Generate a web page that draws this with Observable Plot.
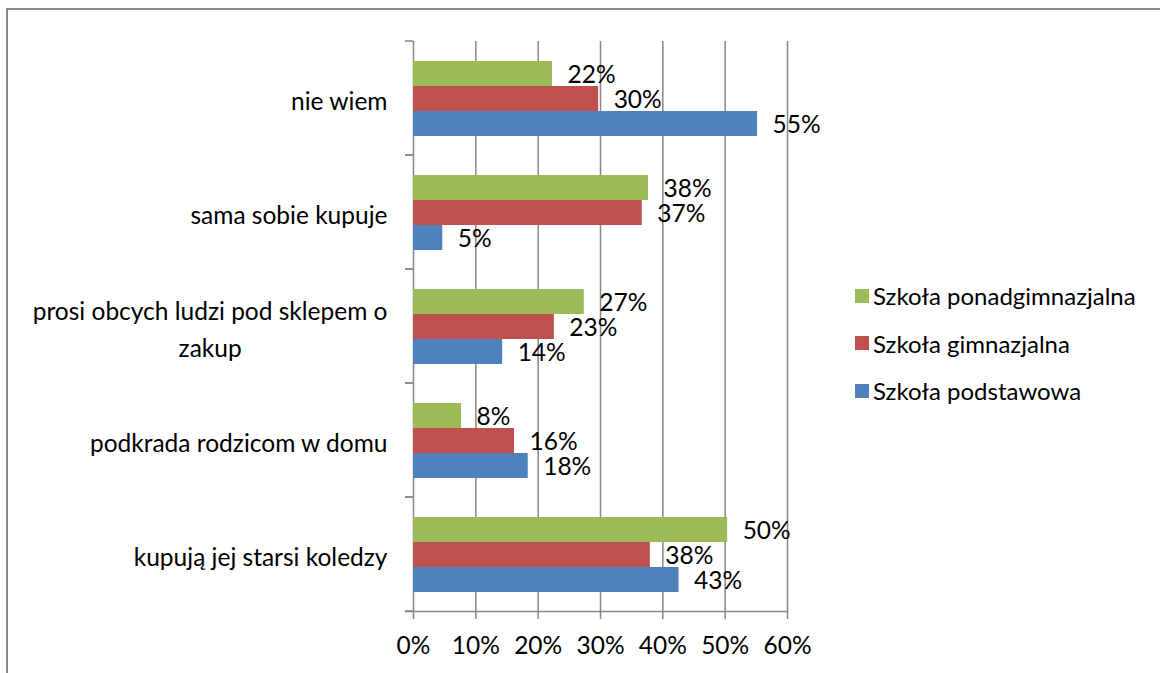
<!DOCTYPE html>
<html>
<head>
<meta charset="utf-8">
<script src="https://cdn.jsdelivr.net/npm/d3@7"></script>
<script src="https://cdn.jsdelivr.net/npm/@observablehq/plot@0.6"></script>
<style>
  html, body { margin: 0; padding: 0; background: #fff; overflow: hidden; }
  #wrap { position: relative; width: 1160px; height: 673px; font-family: Lato, "Open Sans", sans-serif; }
  #border { position: absolute; left: 6px; top: 8px; width: 1300px; height: 800px;
            border-top: 2px solid #8a8a8a; border-left: 2px solid #8a8a8a; }
  #chart { position: absolute; left: 0; top: 0; }
  #legend { position: absolute; left: 855px; top: 272px; }
  .row { display: flex; align-items: center; height: 47.5px; font-size: 24px; color: #000; }
  .sw { width: 14px; height: 14px; margin-right: 4px; }
</style>
</head>
<body>
<div id="wrap">
  <div id="border"></div>
  <div id="chart"></div>
  <div id="legend"></div>
</div>
<script>
const categories = [
  "nie wiem",
  "sama sobie kupuje",
  "prosi obcych ludzi pod sklepem o zakup",
  "podkrada rodzicom w domu",
  "kupują jej starsi koledzy"
];
const categoryLabels = [
  "nie wiem",
  "sama sobie kupuje",
  "prosi obcych ludzi pod sklepem o\nzakup",
  "podkrada rodzicom w domu",
  "kupują jej starsi koledzy"
];
const series = ["Szkoła ponadgimnazjalna", "Szkoła gimnazjalna", "Szkoła podstawowa"];
const ponadgimnazjalna = [0.223, 0.377, 0.274, 0.077, 0.504];
const gimnazjalna      = [0.297, 0.367, 0.226, 0.162, 0.380];
const podstawowa       = [0.552, 0.047, 0.143, 0.184, 0.426];
const ponadgimnazjalnaLabels = ["22%", "38%", "27%", "8%", "50%"];
const gimnazjalnaLabels      = ["30%", "37%", "23%", "16%", "38%"];
const podstawowaLabels       = ["55%", "5%", "14%", "18%", "43%"];
const colors = ["#9BBB59", "#C0504D", "#4F81BD"];
const xTicks = [0, 0.1, 0.2, 0.3, 0.4, 0.5, 0.6];
const xTickLabels = ["0%", "10%", "20%", "30%", "40%", "50%", "60%"];

const seriesValues = [ponadgimnazjalna, gimnazjalna, podstawowa];
const seriesLabels = [ponadgimnazjalnaLabels, gimnazjalnaLabels, podstawowaLabels];
const rows = [];
categories.forEach((c, i) => {
  series.forEach((s, j) => {
    rows.push({category: c, series: s, value: seriesValues[j][i], label: seriesLabels[j][i]});
  });
});

const gridColor = "#878787";

const boundaryTicks = (index, scales, values, dims) => {
  const g = document.createElementNS("http://www.w3.org/2000/svg", "g");
  const {marginLeft, marginTop, marginBottom, height} = dims;
  [marginTop, height - marginBottom].forEach(y => {
    const l = document.createElementNS("http://www.w3.org/2000/svg", "line");
    l.setAttribute("x1", marginLeft - 8);
    l.setAttribute("x2", marginLeft);
    l.setAttribute("y1", y);
    l.setAttribute("y2", y);
    l.setAttribute("stroke", gridColor);
    l.setAttribute("stroke-width", 1.5);
    g.appendChild(l);
  });
  return g;
};

const chart = Plot.plot({
  width: 1160,
  height: 673,
  marginLeft: 413,
  marginRight: 373,
  marginTop: 40,
  marginBottom: 62,
  style: {fontFamily: "Lato, 'Open Sans', sans-serif", fontSize: "24px", color: "#000", background: "transparent", overflow: "visible"},
  x: {domain: [0, 0.6]},
  y: {domain: series, paddingInner: 0, paddingOuter: 0.765, axis: null},
  fy: {domain: categories, padding: 0, axis: null},
  color: {domain: series, range: colors},
  marks: [
    Plot.gridX(xTicks, {stroke: gridColor, strokeOpacity: 1, strokeWidth: 1.5}),
    boundaryTicks,
    Plot.frame({anchor: "bottom", fy: () => categories[categories.length - 1], insetLeft: -8, stroke: gridColor, strokeWidth: 1.5}),
    Plot.barX(rows, {fy: "category", y: "series", x: "value", fill: "series"}),
    Plot.text(rows, {fy: "category", y: "series", x: "value", text: "label", textAnchor: "start", dx: 15, dy: 1, fill: "#000", fontSize: 24.5}),
    Plot.text(categories, {fy: d => d, text: (d, i) => categoryLabels[i], frameAnchor: "left", textAnchor: "end", dx: -26, lineHeight: 1.5, fill: "#000", fontSize: 24.5}),
    Plot.axisX({anchor: "bottom", ticks: xTicks, tickFormat: (d) => xTickLabels[xTicks.indexOf(d)], tickSize: 8, tickPadding: 17, label: null, stroke: gridColor, strokeWidth: 1.5, fill: "#000", fontSize: 24.5})
  ]
});
document.getElementById("chart").appendChild(chart);

// center-align multi-line category labels (lines centered on one another)
chart.querySelectorAll("text").forEach(t => {
  const spans = t.querySelectorAll("tspan");
  if (spans.length > 1) {
    let w = 0;
    spans.forEach(s => { w = Math.max(w, s.getComputedTextLength()); });
    t.setAttribute("text-anchor", "middle");
    spans.forEach(s => s.setAttribute("x", -w / 2));
  }
});

const legend = document.getElementById("legend");
series.forEach((s, j) => {
  const row = document.createElement("div");
  row.className = "row";
  const sw = document.createElement("div");
  sw.className = "sw";
  sw.style.background = colors[j];
  const tx = document.createElement("span");
  tx.textContent = s;
  row.appendChild(sw);
  row.appendChild(tx);
  legend.appendChild(row);
});
</script>
</body>
</html>
